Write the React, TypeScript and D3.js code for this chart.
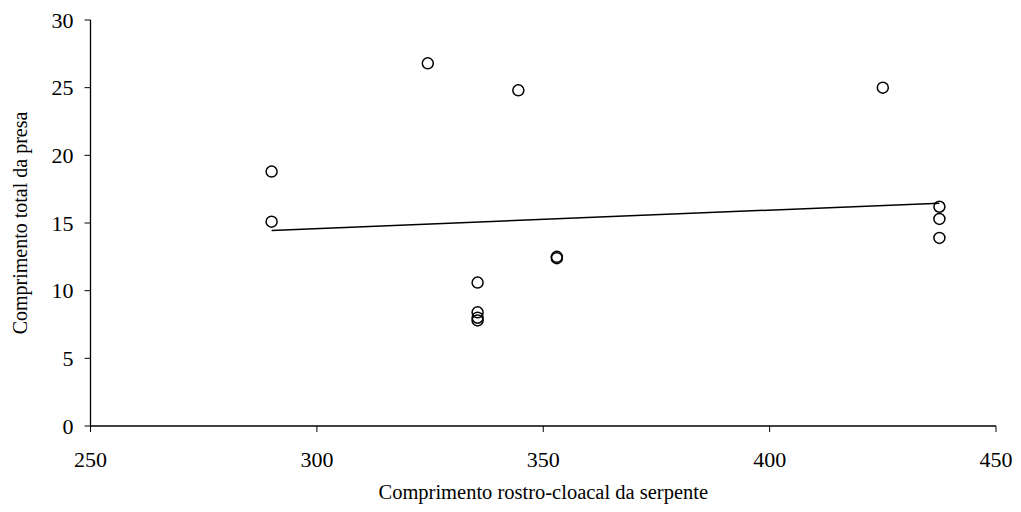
import React from "react";
import * as d3 from "d3";

const snoutVentLength = [290, 290, 324.5, 344.5, 425, 437.5, 437.5, 437.5, 335.5, 335.5, 335.5, 335.5, 353, 353];
const preyLength = [18.8, 15.1, 26.8, 24.8, 25.0, 16.2, 15.3, 13.9, 10.6, 8.4, 8.0, 7.8, 12.5, 12.4];
const xTicks = [250, 300, 350, 400, 450];
const yTicks = [0, 5, 10, 15, 20, 25, 30];
const xTitle = "Comprimento rostro-cloacal da serpente";
const yTitle = "Comprimento total da presa";

const W = 1021, H = 512;
const left = 90.5, right = 996, top = 20, bottom = 426;
const font = "'Liberation Serif', 'Times New Roman', serif";

export default function App() {
  const x = d3.scaleLinear().domain([250, 450]).range([left, right]);
  const y = d3.scaleLinear().domain([0, 30]).range([bottom, top]);
  const pts = snoutVentLength.map((v, i) => ({ x: v, y: preyLength[i] }));
  const mx = d3.mean(pts, d => d.x)!;
  const my = d3.mean(pts, d => d.y)!;
  const sxy = d3.sum(pts, d => (d.x - mx) * (d.y - my));
  const sxx = d3.sum(pts, d => (d.x - mx) ** 2);
  const slope = sxy / sxx;
  const intercept = my - slope * mx;
  const [x0, x1] = d3.extent(snoutVentLength) as [number, number];
  const line = d3.line<number>().x(v => x(v)).y(v => y(intercept + slope * v));

  return (
    <svg width={W} height={H} style={{ position: "absolute", left: 0, top: 0, background: "#fff" }}>
      <rect width={W} height={H} fill="#fff" />
      <line x1={left} x2={left} y1={top} y2={bottom} stroke="#000" strokeWidth={1.3} />
      <line x1={left} x2={right} y1={bottom} y2={bottom} stroke="#000" strokeWidth={1.3} />
      {yTicks.map(t => (
        <g key={"y" + t}>
          <line x1={left - 6} x2={left} y1={y(t)} y2={y(t)} stroke="#000" strokeWidth={1} />
          <text x={left - 17} y={y(t)} dy="0.35em" textAnchor="end" fontFamily={font} fontSize={22} fill="#000">{t}</text>
        </g>
      ))}
      {xTicks.map(t => (
        <g key={"x" + t}>
          <line x1={x(t)} x2={x(t)} y1={bottom} y2={bottom + 6} stroke="#000" strokeWidth={1} />
          <text x={x(t)} y={bottom + 41} textAnchor="middle" fontFamily={font} fontSize={22} fill="#000">{t}</text>
        </g>
      ))}
      <text x={(left + right) / 2} y={499} textAnchor="middle" fontFamily={font} fontSize={20.5} fill="#000">{xTitle}</text>
      <text transform={`translate(27,${(top + bottom) / 2}) rotate(-90)`} textAnchor="middle" fontFamily={font} fontSize={20} fill="#000">{yTitle}</text>
      <path d={line([x0, x1]) || ""} fill="none" stroke="#000" strokeWidth={1.5} />
      {pts.map((p, i) => (
        <circle key={i} cx={x(p.x)} cy={y(p.y)} r={5.5} fill="none" stroke="#000" strokeWidth={1.5} />
      ))}
    </svg>
  );
}
